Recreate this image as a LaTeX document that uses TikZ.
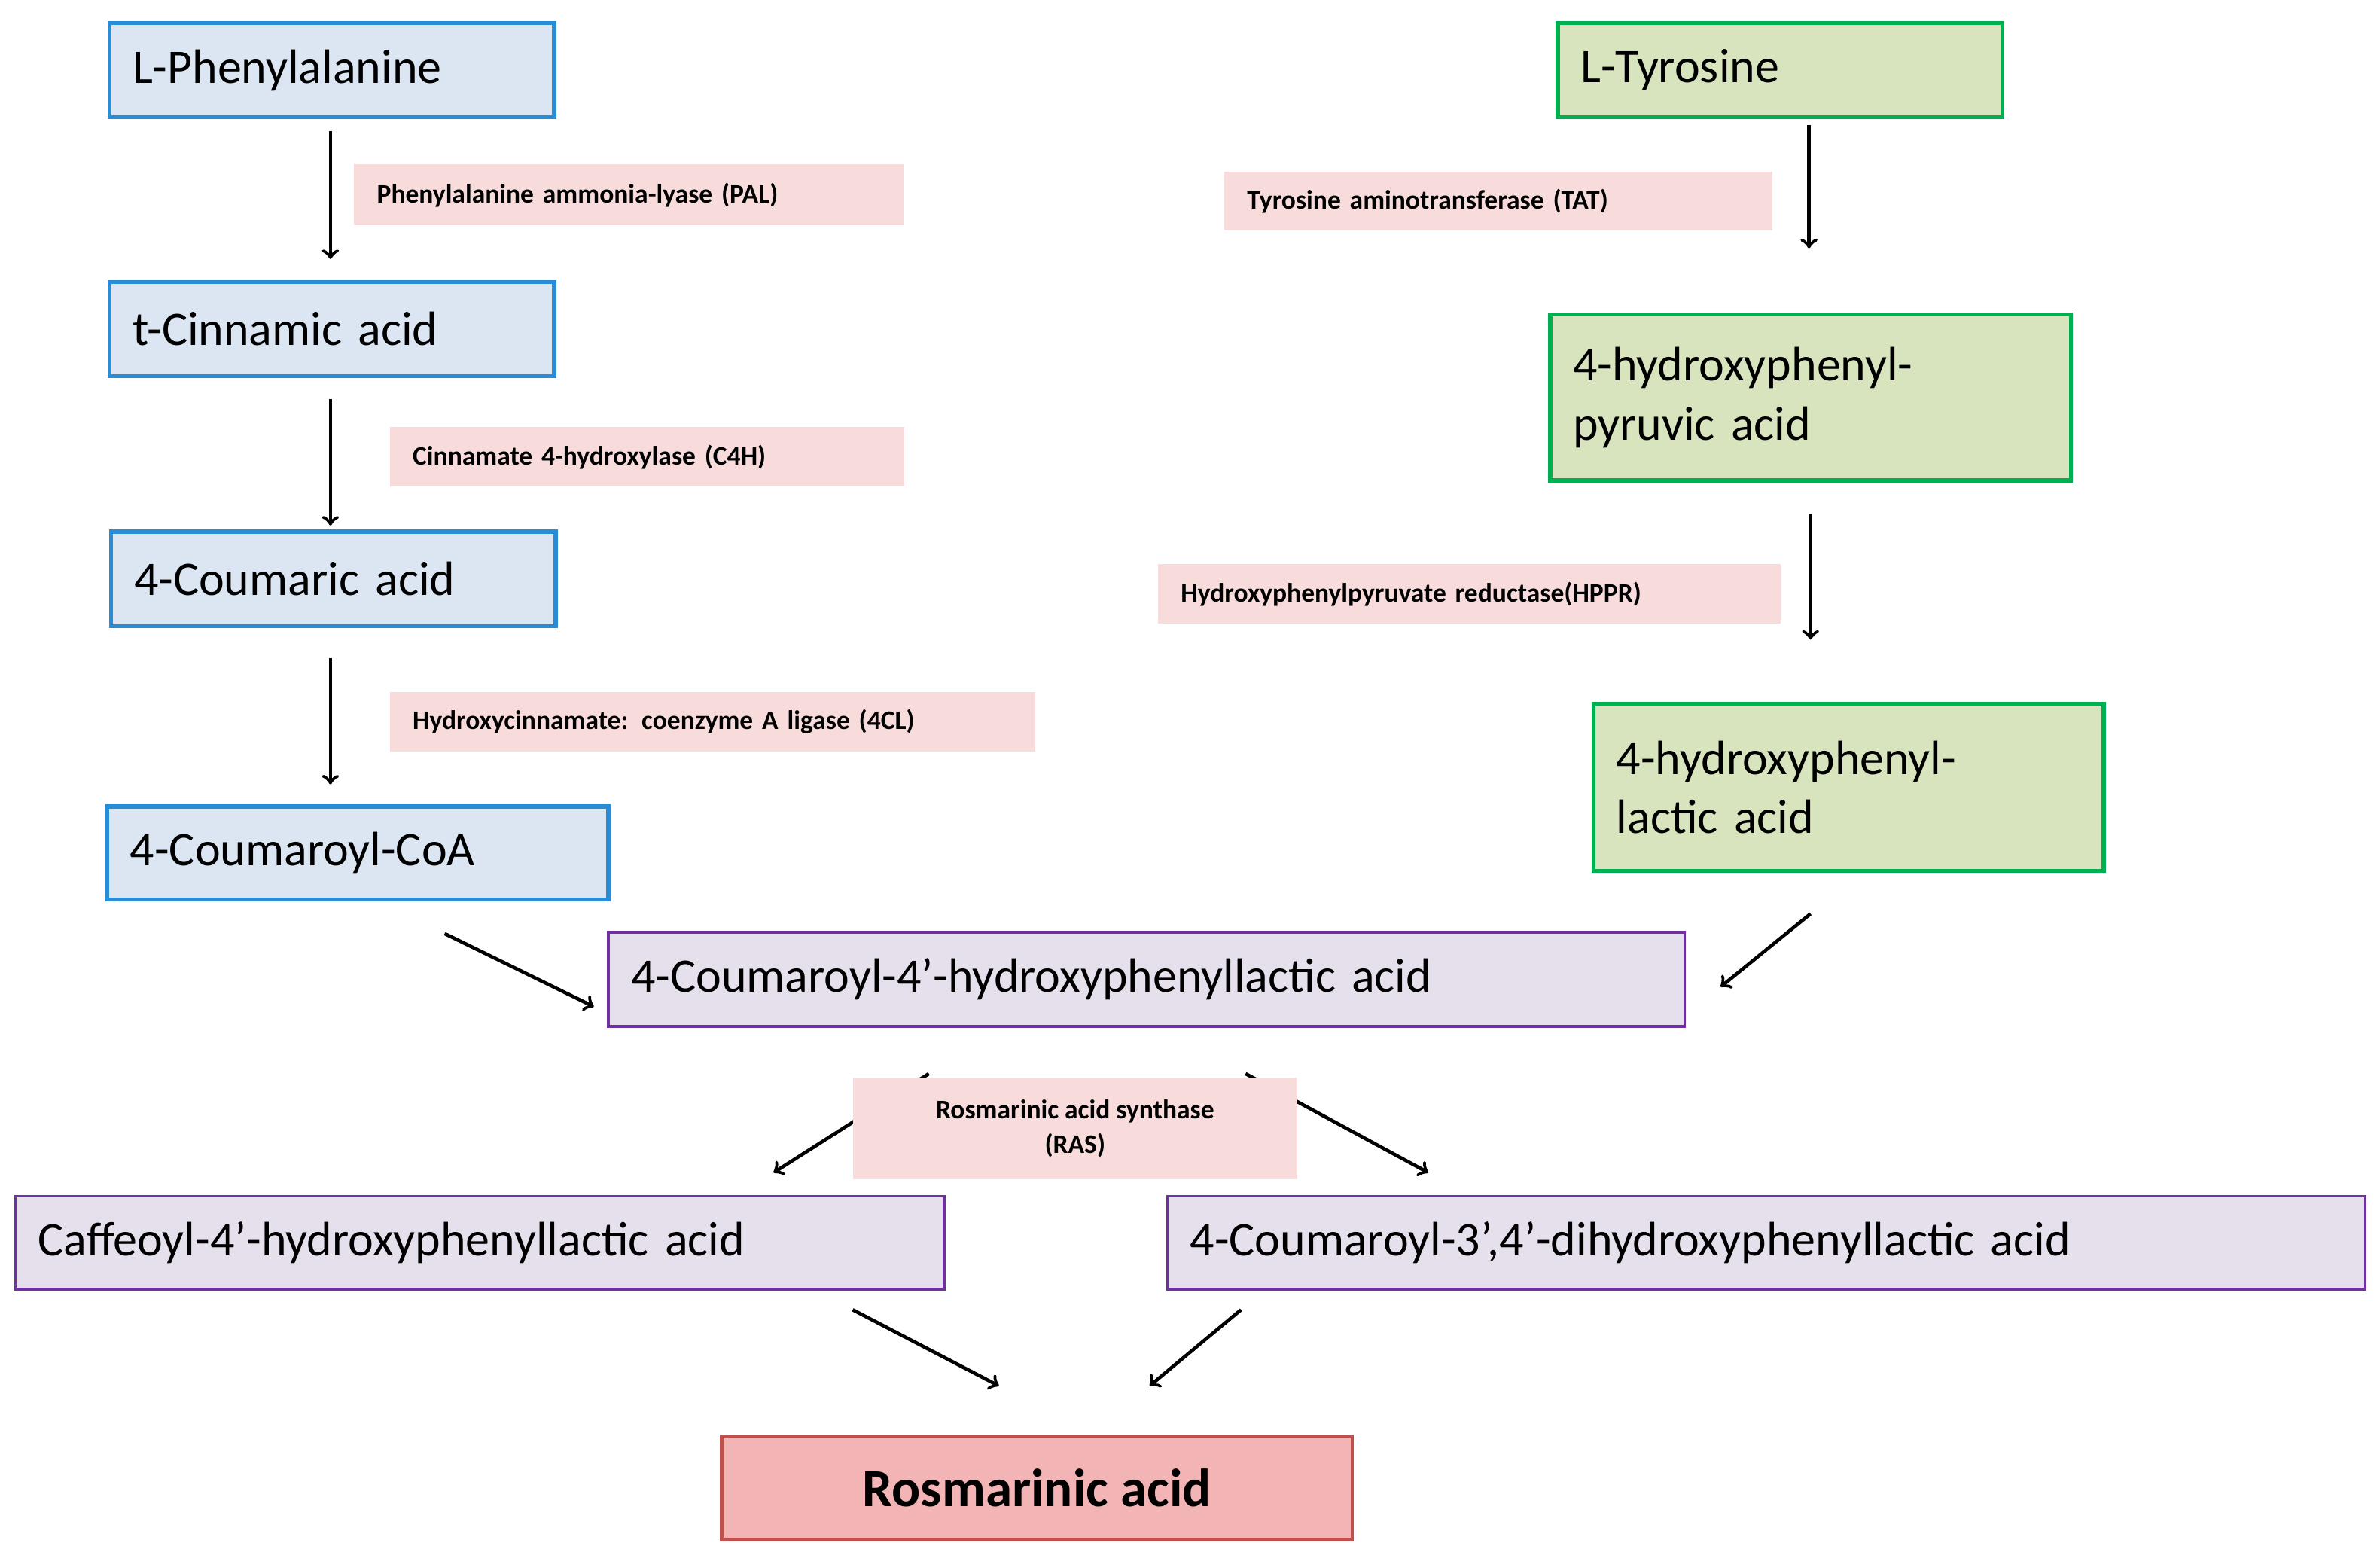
\documentclass[tikz,border=0pt]{standalone}
\usepackage{fontspec}
\setmainfont{Carlito}
\usetikzlibrary{arrows}
\definecolor{bluefill}{RGB}{220,230,242}
\definecolor{blueline}{RGB}{40,140,215}
\definecolor{greenfill}{RGB}{215,228,189}
\definecolor{greenline}{RGB}{0,176,80}
\definecolor{purplefill}{RGB}{230,224,236}
\definecolor{purpleline}{RGB}{112,48,160}
\definecolor{enzfill}{RGB}{248,220,220}
\definecolor{rafill}{RGB}{242,180,180}
\definecolor{raline}{RGB}{192,80,77}
\tikzset{
  phe/.style={rectangle, draw=blueline, fill=bluefill, line width=1.5pt,
    inner xsep=0.3cm, inner ysep=0pt, align=left, font=\fontsize{18}{22}\selectfont},
  tyr/.style={phe, draw=greenline, fill=greenfill},
  ester/.style={phe, draw=purpleline, fill=purplefill, line width=1pt},
  enzyme/.style={rectangle, fill=enzfill, inner xsep=0.3cm, inner ysep=0pt,
    align=left, font=\fontsize{10}{13}\selectfont\bfseries},
  arrow/.style={line width=1.3pt, ->, >=to}
}
\begin{document}
\begin{tikzpicture}[x=0.02cm, y=-0.02cm]
\useasboundingbox (0,0) rectangle (1563,1019);
% arrows
\coordinate (a1) at (217,86);   \coordinate (b1) at (217,170);
\coordinate (a2) at (217,262);  \coordinate (b2) at (217,345);
\coordinate (a3) at (217,432);  \coordinate (b3) at (217,515);
\coordinate (a4) at (1188,82);  \coordinate (b4) at (1188,163);
\coordinate (a5) at (1189,337); \coordinate (b5) at (1189,420);
\coordinate (a6) at (292,613);  \coordinate (b6) at (390,661);
\coordinate (a7) at (1189,600); \coordinate (b7) at (1130,648);
\coordinate (a8) at (610,705);  \coordinate (b8) at (508,770);
\coordinate (a9) at (818,705);  \coordinate (b9) at (938,770);
\coordinate (a10) at (560,860); \coordinate (b10) at (656,910);
\coordinate (a11) at (815,860); \coordinate (b11) at (755,910);
\foreach \i in {1,...,11}
  \draw[arrow] (a\i) -- (b\i);

% substrates
\node (phe) [phe, minimum width=5.84cm, minimum height=1.24cm, text width=5.24cm] at (218,46) {L-Phenylalanine};
\node (cinn) [phe, minimum width=5.84cm, minimum height=1.24cm, text width=5.24cm] at (218,216) {t-Cinnamic acid};
\node (coum) [phe, minimum width=5.84cm, minimum height=1.24cm, text width=5.24cm] at (219,380) {4-Coumaric acid};
\node (coa) [phe, minimum width=6.58cm, minimum height=1.22cm, text width=5.98cm] at (235,560) {4-Coumaroyl-CoA};
\node (tyr) [tyr, minimum width=5.84cm, minimum height=1.24cm, text width=5.24cm] at (1169,46) {L-Tyrosine};
\node (hpp) [tyr, minimum width=6.84cm, minimum height=2.18cm, text width=6.24cm] at (1189,261) {4-hydroxyphenyl-\\pyruvic acid};
\node (hpl) [tyr, minimum width=6.7cm, minimum height=2.2cm, text width=6.1cm] at (1214,517) {4-hydroxyphenyl-\\lactic acid};
\node (chpl) [ester, minimum width=14.14cm, minimum height=1.24cm, text width=13.54cm] at (753,643) {4-Coumaroyl-4’-hydroxyphenyllactic acid};
\node (caff) [ester, minimum width=12.2cm, minimum height=1.22cm, text width=11.6cm] at (315,816) {Caffeoyl-4’-hydroxyphenyllactic acid};
\node (cdhpl) [ester, minimum width=15.74cm, minimum height=1.22cm, text width=15.14cm] at (1160,816) {4-Coumaroyl-3’,4’-dihydroxyphenyllactic acid};
\node (ra) [rectangle, draw=raline, fill=rafill, line width=1.3pt, minimum width=8.28cm, minimum height=1.36cm,
  font=\fontsize{20}{24}\selectfont\bfseries] at (681,977) {Rosmarinic acid};

% enzymes
\node (pal) [enzyme, minimum width=7.22cm, minimum height=0.8cm, text width=6.62cm] at (413,128) {Phenylalanine ammonia-lyase (PAL)};
\node (c4h) [enzyme, minimum width=6.76cm, minimum height=0.78cm, text width=6.16cm] at (425,300) {Cinnamate 4-hydroxylase (C4H)};
\node (fcl) [enzyme, minimum width=8.48cm, minimum height=0.78cm, text width=7.88cm] at (468,474) {Hydroxycinnamate: coenzyme A ligase (4CL)};
\node (tat) [enzyme, minimum width=7.2cm, minimum height=0.78cm, text width=6.6cm] at (984,132) {Tyrosine aminotransferase (TAT)};
\node (hppr) [enzyme, minimum width=8.18cm, minimum height=0.78cm, text width=7.58cm] at (965,390) {Hydroxyphenylpyruvate reductase(HPPR)};
\node (ras) [enzyme, align=center, minimum width=5.84cm, minimum height=1.34cm] at (706,741) {Rosmarinic acid synthase\\(RAS)};
\end{tikzpicture}
\end{document}
